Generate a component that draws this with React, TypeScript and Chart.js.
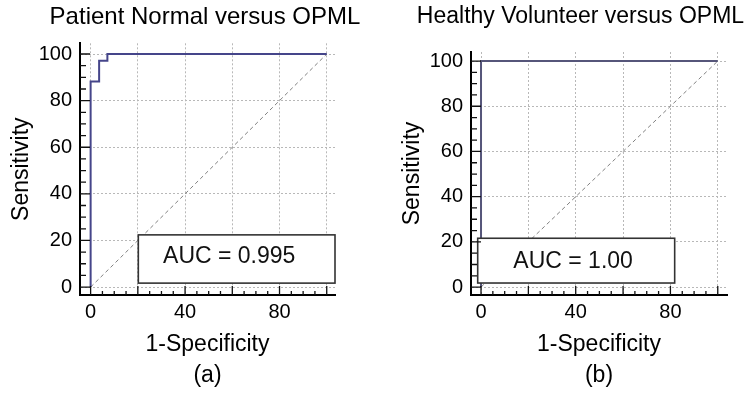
import React, { useEffect, useRef } from 'react';
import { Chart, registerables } from 'chart.js';

Chart.register(...registerables);

const FONT = "'Liberation Sans', Arial, Helvetica, sans-serif";

// ---- Panel (a) data ----
const TITLE_A = 'Patient Normal versus OPML';
const ROC_A_FPR = [0, 0, 3.6, 3.6, 7.1, 7.1, 100];
const ROC_A_TPR = [0, 88.2, 88.2, 97.1, 97.1, 100, 100];
const AUC_A = 'AUC = 0.995';
const LABEL_A = '(a)';

// ---- Panel (b) data ----
const TITLE_B = 'Healthy Volunteer versus OPML';
const ROC_B_FPR = [0, 0, 100];
const ROC_B_TPR = [0, 100, 100];
const AUC_B = 'AUC = 1.00';
const LABEL_B = '(b)';

// ---- Shared ----
const DIAG_X = [0, 100];
const DIAG_Y = [0, 100];
const X_GRID_TICKS = [0, 20, 40, 60, 80, 100];
const X_TICK_LABELS = [0, 40, 80];
const Y_GRID_TICKS = [0, 20, 40, 60, 80, 100];
const Y_TICK_LABELS = [0, 20, 40, 60, 80, 100];
const MINOR_TICKS = [0, 5, 10, 15, 20, 25, 30, 35, 40, 45, 50, 55, 60, 65, 70, 75, 80, 85, 90, 95, 100];
const X_AXIS_TITLE = '1-Specificity';
const Y_AXIS_TITLE = 'Sensitivity';

type Panel = {
  left: number;
  width: number;
  title: string;
  titleSize: number;
  titlePadBottom: number;
  fpr: number[];
  tpr: number[];
  rocColor: string;
  auc: string;
  aucBox: number[];
  aucText: number[];
  xMin: number;
  xMax: number;
  yMin: number;
  yMax: number;
  yAxisWidth: number;
  rightReserve: number;
  yTitlePad: number;
  label: string;
};

const PANEL_A: Panel = {
  left: 0,
  width: 410,
  title: TITLE_A,
  titleSize: 24,
  titlePadBottom: 11.5,
  fpr: ROC_A_FPR,
  tpr: ROC_A_TPR,
  rocColor: '#45458a',
  auc: AUC_A,
  aucBox: [20.2, 103.5, 1.7, 22.4],
  aucText: [58.7, 13.1],
  xMin: -4.5,
  xMax: 103.5,
  yMin: -3.4,
  yMax: 104.6,
  yAxisWidth: 80,
  rightReserve: 75,
  yTitlePad: 8,
  label: LABEL_A,
};

const PANEL_B: Panel = {
  left: 398,
  width: 365,
  title: TITLE_B,
  titleSize: 23,
  titlePadBottom: 21.4,
  fpr: ROC_B_FPR,
  tpr: ROC_B_TPR,
  rocColor: '#56567a',
  auc: AUC_B,
  aucBox: [-1.4, 81.8, 1.8, 21.6],
  aucText: [38.9, 11.3],
  xMin: -4.23,
  xMax: 103.9,
  yMin: -3.5,
  yMax: 104,
  yAxisWidth: 73,
  rightReserve: 36,
  yTitlePad: 1,
  label: LABEL_B,
};

const HEIGHT = 394;
const X_AXIS_HEIGHT = 99;

function makeChart(canvas: HTMLCanvasElement, p: Panel) {
  const xy = (xs: number[], ys: number[]) => xs.map((x, i) => ({ x, y: ys[i] }));

  const decor = {
    id: 'decor',
    afterDatasetsDraw(chart: any) {
      const { ctx, chartArea } = chart;
      const xs = chart.scales.x;
      const ys = chart.scales.y;
      const [bx0, bx1, by0, by1] = p.aucBox;
      const L = xs.getPixelForValue(bx0);
      const R = xs.getPixelForValue(bx1);
      const T = ys.getPixelForValue(by1);
      const B = ys.getPixelForValue(by0);
      ctx.save();
      ctx.fillStyle = '#ffffff';
      ctx.fillRect(L, T, R - L, B - T);
      ctx.strokeStyle = '#333333';
      ctx.lineWidth = 1.6;
      ctx.strokeRect(L, T, R - L, B - T);
      ctx.fillStyle = '#111111';
      ctx.font = `23px ${FONT}`;
      ctx.textAlign = 'center';
      ctx.textBaseline = 'middle';
      ctx.fillText(p.auc, xs.getPixelForValue(p.aucText[0]), ys.getPixelForValue(p.aucText[1]));

      // inward minor / major tick marks
      ctx.strokeStyle = '#111111';
      ctx.lineWidth = 1.3;
      ctx.beginPath();
      MINOR_TICKS.forEach((v) => {
        const major = X_GRID_TICKS.includes(v);
        const px = xs.getPixelForValue(v);
        ctx.moveTo(px, chartArea.bottom);
        ctx.lineTo(px, chartArea.bottom - (major ? 9 : 4));
        const majorY = Y_GRID_TICKS.includes(v);
        const py = ys.getPixelForValue(v);
        ctx.moveTo(chartArea.left, py);
        ctx.lineTo(chartArea.left + (majorY ? 10 : 6), py);
      });
      ctx.stroke();
      ctx.restore();
    },
  };

  const gridOpts = { color: '#b8b8b8', lineWidth: 1, drawTicks: false };
  const borderOpts = { display: true, color: '#000000', width: 2, dash: [2, 2] };

  return new Chart(canvas, {
    type: 'scatter',
    data: {
      datasets: [
        {
          data: xy(p.fpr, p.tpr),
          showLine: true,
          borderColor: p.rocColor,
          borderWidth: 2,
          pointRadius: 0,
          tension: 0,
          xAxisID: 'x',
          yAxisID: 'y',
        },
        {
          data: xy(DIAG_X, DIAG_Y),
          showLine: true,
          borderColor: '#808080',
          borderWidth: 1,
          borderDash: [4, 3],
          pointRadius: 0,
          tension: 0,
          xAxisID: 'x',
          yAxisID: 'y',
        },
      ],
    },
    options: {
      responsive: false,
      animation: false,
      devicePixelRatio: 1,
      layout: { padding: 0 },
      events: [],
      plugins: {
        legend: { display: false },
        tooltip: { enabled: false },
        title: {
          display: true,
          text: p.title,
          color: '#000000',
          font: { family: FONT, size: p.titleSize, weight: 'normal' },
          padding: { top: 3, bottom: p.titlePadBottom },
        },
      },
      scales: {
        x: {
          type: 'linear',
          position: 'bottom',
          min: p.xMin,
          max: p.xMax,
          afterBuildTicks: (s: any) => {
            s.ticks = X_GRID_TICKS.map((v) => ({ value: v }));
          },
          afterFit: (s: any) => {
            s.height = X_AXIS_HEIGHT;
          },
          grid: gridOpts,
          border: borderOpts,
          ticks: {
            color: '#000000',
            font: { family: FONT, size: 20 },
            padding: 5,
            autoSkip: false,
            maxRotation: 0,
            callback: (v: any) => (X_TICK_LABELS.includes(Number(v)) ? String(v) : ''),
          },
          title: {
            display: true,
            text: [X_AXIS_TITLE, p.label],
            color: '#000000',
            font: { family: FONT, size: 23, lineHeight: 1.35 },
            padding: { top: 0, bottom: 2.5 },
          },
        },
        y: {
          type: 'linear',
          position: 'left',
          min: p.yMin,
          max: p.yMax,
          afterBuildTicks: (s: any) => {
            s.ticks = Y_GRID_TICKS.map((v) => ({ value: v }));
          },
          afterFit: (s: any) => {
            s.width = p.yAxisWidth;
          },
          grid: gridOpts,
          border: borderOpts,
          ticks: {
            color: '#000000',
            font: { family: FONT, size: 20 },
            padding: 8,
            autoSkip: false,
            callback: (v: any) => (Y_TICK_LABELS.includes(Number(v)) ? String(v) : ''),
          },
          title: {
            display: true,
            text: Y_AXIS_TITLE,
            color: '#000000',
            font: { family: FONT, size: 23 },
            padding: { top: p.yTitlePad, bottom: 0 },
          },
        },
        yr: {
          type: 'linear',
          position: 'right',
          display: true,
          grid: { display: false, drawTicks: false },
          border: { display: false },
          ticks: { display: false },
          afterFit: (s: any) => {
            s.width = p.rightReserve;
          },
        },
      },
    } as any,
    plugins: [decor],
  });
}

function PanelCanvas({ p }: { p: Panel }) {
  const ref = useRef<HTMLCanvasElement | null>(null);
  useEffect(() => {
    if (!ref.current) return;
    const chart = makeChart(ref.current, p);
    return () => chart.destroy();
  }, [p]);
  return (
    <canvas
      ref={ref}
      width={p.width}
      height={HEIGHT}
      style={{ position: 'absolute', left: p.left, top: 0, width: p.width, height: HEIGHT }}
    />
  );
}

export default function App() {
  return (
    <div
      style={{
        position: 'absolute',
        left: 0,
        top: 0,
        width: 754,
        height: HEIGHT,
        overflow: 'hidden',
        background: '#ffffff',
      }}
    >
      <PanelCanvas p={PANEL_A} />
      <PanelCanvas p={PANEL_B} />
    </div>
  );
}
